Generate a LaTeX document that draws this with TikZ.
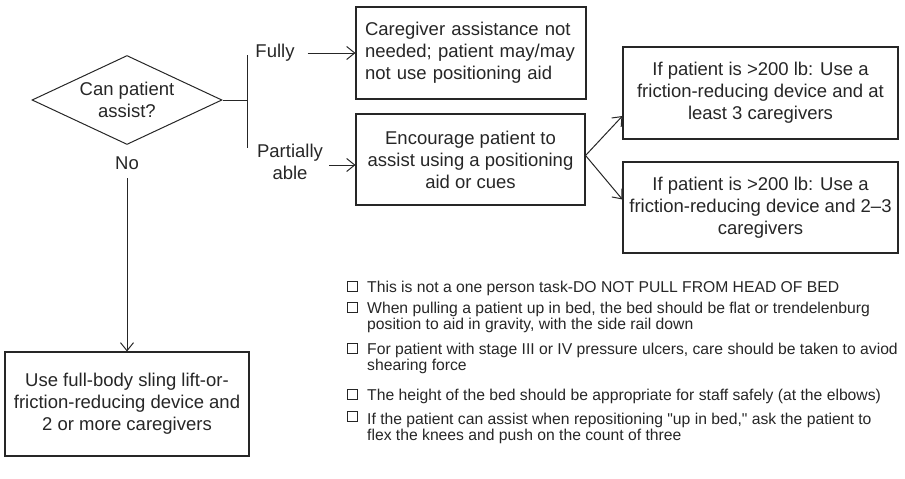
\documentclass[tikz,border=0pt]{standalone}
\usepackage{fontspec}
\setmainfont{Liberation Sans}[Ligatures=TeXOff]
\usetikzlibrary{shapes.geometric,arrows.meta}
\definecolor{ink}{HTML}{262626}
\begin{document}
\begin{tikzpicture}[x=1pt,y=-1pt,
  every node/.style={text=ink},
  boxtext/.style={font=\fontsize{18.5}{22}\selectfont},
  flowbox/.style={draw=ink, line width=1.1pt, boxtext, align=center, inner sep=0pt},
  conn/.style={draw=ink, line width=1pt},
  arr/.style={conn, -{Straight Barb[length=8pt,width=13pt,line width=1pt]}},
  note/.style={font=\fontsize{15.7}{16}\selectfont, align=left, anchor=north west, inner sep=0pt},
  tick/.style={draw=ink, line width=0.9pt, minimum size=10pt, inner sep=0pt}
]
\useasboundingbox (0,0) rectangle (905,479);

% decision
\node[draw=ink, line width=1pt, diamond, aspect=2.13, minimum width=190pt,
      minimum height=89pt, inner sep=0pt, boxtext, align=center] (ask) at (127,100)
      {Can patient\\assist?};

% outcome boxes
\node[draw=ink, line width=1.1pt, boxtext, align=left, text width=212pt,
      inner xsep=9pt, inner ysep=0pt, minimum height=92pt] (care) at (471,53)
      {Caregiver assistance not\\needed; patient may/may\\not use positioning aid};
\node[flowbox, minimum width=229pt, minimum height=91pt] (enc) at (470.5,159.5)
      {Encourage patient to\\assist using a positioning\\aid or cues};
\node[flowbox, minimum width=275pt, minimum height=92pt] (hi) at (760.5,93)
      {If patient is >200 lb: Use a\\friction-reducing device and at\\least 3 caregivers};
\node[flowbox, minimum width=275pt, minimum height=91pt] (lo) at (760.5,207.5)
      {If patient is >200 lb: Use a\\friction-reducing device and 2–3\\caregivers};
\node[flowbox, minimum width=244pt, minimum height=104pt] (sling) at (127,404)
      {Use full-body sling lift-or-\\friction-reducing device and\\2 or more caregivers};

% branch labels
\node[boxtext, inner sep=0pt] (fully) at (275,53) {Fully};
\node[boxtext, inner sep=0pt, align=center] (partial) at (290,162) {Partially\\able};
\node[boxtext, inner sep=0pt] (no) at (127,163) {No};

% fork after the decision
\coordinate (fork) at (247,100);
\coordinate (forktop) at (247,55);
\coordinate (forkbot) at (247,148);
\draw[conn] (ask.east) -- (fork);
\draw[conn] (forktop) -- (forkbot);

% connectors
\draw[arr] ([xshift=13pt]fully.east) -- (care.west);
\draw[arr] ([xshift=6pt,yshift=-3pt]partial.east) -- ([yshift=-3pt]partial.east -| enc.west);
\draw[arr] ([yshift=4pt]enc.east) -- ([yshift=-23pt]hi.west);
\draw[arr] ([yshift=4pt]enc.east) -- ([yshift=8pt]lo.west);
\draw[arr] ([yshift=-15pt]no.center) -- (sling.north);

% checklist
\node[tick] (t1) at (352.5,286.5) {};
\node[note] (n1) at (367,280.5) {This is not a one person task-DO NOT PULL FROM HEAD OF BED};
\node[tick] (t2) at (352.5,307.5) {};
\node[note] (n2) at (367,301.5) {When pulling a patient up in bed, the bed should be flat or trendelenburg\\position to aid in gravity, with the side rail down};
\node[tick] (t3) at (352.5,348.5) {};
\node[note] (n3) at (367,342.5) {For patient with stage III or IV pressure ulcers, care should be taken to aviod\\shearing force};
\node[tick] (t4) at (352.5,394.5) {};
\node[note] (n4) at (367,388.5) {The height of the bed should be appropriate for staff safely (at the elbows)};
\node[tick] (t5) at (352.5,416) {};
\node[note] (n5) at (367,412.5) {If the patient can assist when repositioning "up in bed," ask the patient to\\flex the knees and push on the count of three};
\end{tikzpicture}
\end{document}
